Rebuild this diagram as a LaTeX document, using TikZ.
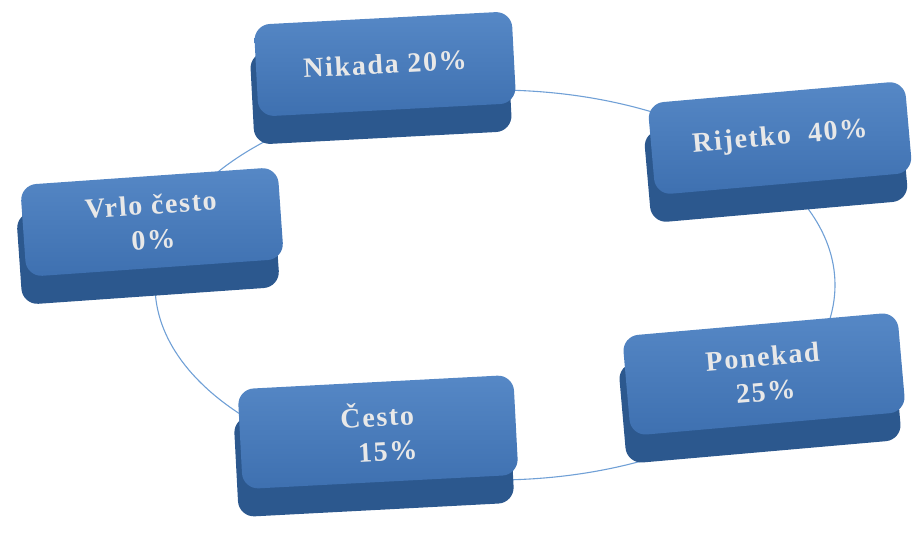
\documentclass[tikz,border=0pt]{standalone}
\usepackage{fontspec}
\setmainfont{Liberation Serif}[LetterSpace=6]
\usetikzlibrary{shadows}
\definecolor{facetop}{RGB}{86,136,198}
\definecolor{facebot}{RGB}{62,112,176}
\definecolor{slabblue}{RGB}{44,88,142}
\definecolor{ringblue}{RGB}{112,160,214}
\definecolor{embtext}{RGB}{232,232,232}
\tikzset{
  tile/.style = {rectangle, rounded corners=16pt, top color=facetop,
                 bottom color=facebot, minimum width=258pt, minimum height=92pt,
                 align=center, text=embtext,
                 font=\fontsize{28}{35}\selectfont\bfseries,
                 drop shadow={shadow xshift=-4pt, shadow yshift=-28pt,
                              fill=slabblue, opacity=1}},
  bigtile/.style = {tile, minimum width=276pt, minimum height=100pt},
  ring/.style = {draw=ringblue, line width=1.1pt},
}

\begin{document}
\begin{tikzpicture}[x=1pt, y=-1pt]
  \useasboundingbox (0,0) rectangle (912,533);
  \draw[ring] (495,285) ellipse [x radius=340, y radius=195];

  \node[tile, rotate=3] (nikada) at (385,64) {Nikada 20\%};
  \node[tile, rotate=5] (rijetko) at (780,138) {Rijetko\ \ 40\%};
  \node[tile, rotate=4] (vrlo) at (152,222) {Vrlo često\\0\%};
  \node[bigtile, rotate=5] (ponekad) at (764,374) {Ponekad\\25\%};
  \node[bigtile, rotate=3] (cesto) at (378,432) {Često\\\ \ 15\%};
\end{tikzpicture}
\end{document}
